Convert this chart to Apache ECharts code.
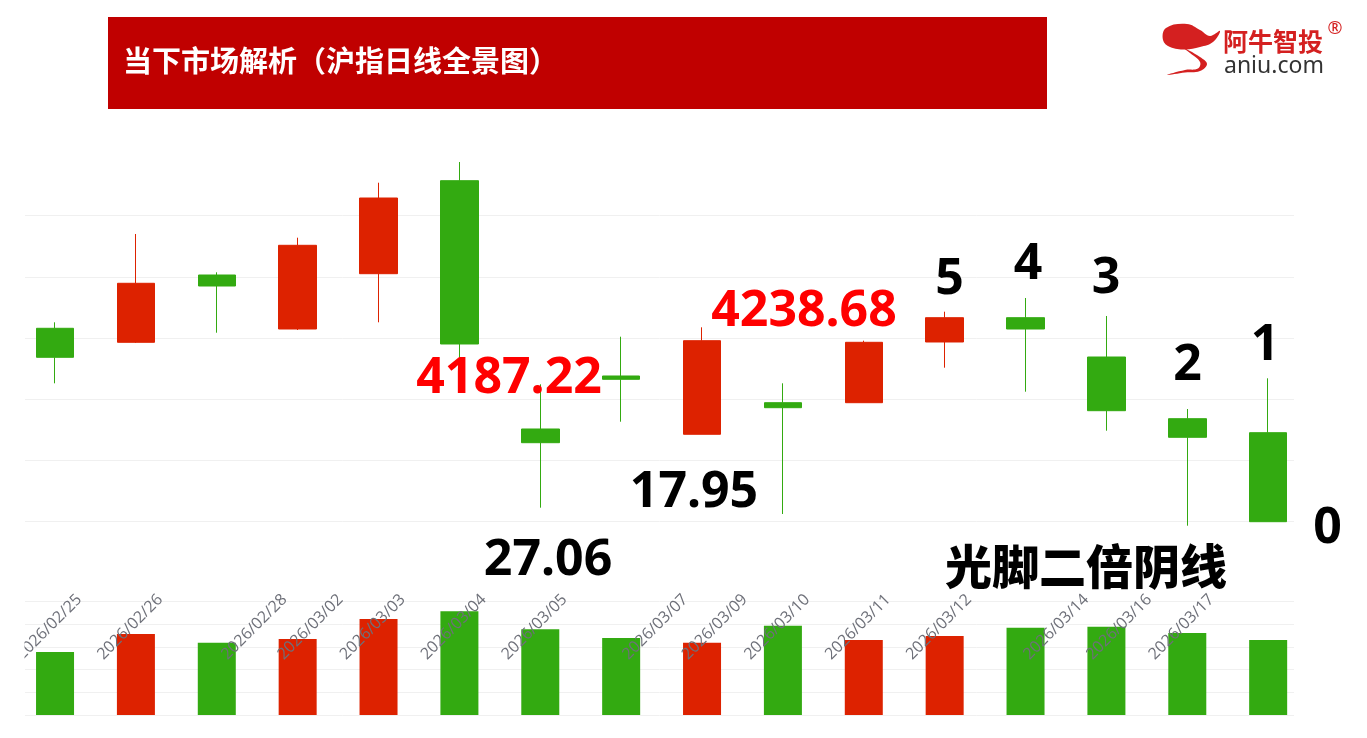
<!DOCTYPE html>
<html>
<head>
<meta charset="utf-8">
<script src="https://cdn.jsdelivr.net/npm/echarts@6/dist/echarts.min.js"></script>
<style>
html,body{margin:0;padding:0;background:#fff;}
#chart{width:1367px;height:738px;}
</style>
</head>
<body>
<div id="chart"></div>
<script>
// ---- data ----
const dates = ['2026/02/25','2026/02/26','2026/02/28','2026/03/02','2026/03/03','2026/03/04','2026/03/05','2026/03/07','2026/03/09','2026/03/10','2026/03/11','2026/03/12','2026/03/14','2026/03/16','2026/03/17'];
const opens  = [4207.80,4196.33,4251.44,4207.22,4252.51,4328.66,4125.34,4168.74,4121.00,4146.87,4146.87,4196.58,4216.48,4184.29,4133.77,4122.31];
const closes = [4184.05,4244.65,4242.43,4275.76,4314.49,4194.94,4114.12,4166.03,4197.64,4142.78,4196.33,4216.48,4207.22,4140.32,4118.54,4049.43];
const lows   = [4162.76,4195.76,4204.19,4206.40,4212.71,4181.80,4060.89,4131.31,4121.00,4055.73,4146.87,4175.53,4155.88,4123.94,4046.15,4049.43];
const highs  = [4212.71,4285.02,4253.65,4281.99,4327.02,4343.97,4161.94,4200.92,4208.61,4162.76,4197.64,4221.39,4232.61,4217.87,4141.71,4166.85];
const volumes = [556,715,638,671,847,915,756,680,638,788,662,697,770,779,724,662];
const priceTicks = {min:4050, max:4300, interval:50};
const volTicks = {min:0, max:1000, interval:200};

const RED = '#DD2200', GREEN = '#33AA11';
const categories = dates.concat(['']);
const candleData = opens.map((o,i)=>[o, closes[i], lows[i], highs[i]]);
const volData = volumes.map((v,i)=>({value:v, itemStyle:{color: closes[i] >= opens[i] ? RED : GREEN}}));

// date labels in the picture are drawn in three horizontal offset groups
const labelGroupB = new Set([2,7,12]);
const labelGroupC = new Set([3,8,13]);

const chart = echarts.init(document.getElementById('chart'), null, {renderer:'canvas'});

const splitOnlyY = (t) => ({
  type:'value', min:t.min, max:t.max, interval:t.interval,
  axisLine:{show:false}, axisTick:{show:false}, axisLabel:{show:false},
  splitLine:{show:true, lineStyle:{color:'#F0F0F0', width:1}}
});

const labelAxis = (gridIndex, pick) => ({
  type:'category', gridIndex:gridIndex, data:categories, zlevel:1, z:10,
  axisLine:{show:false}, axisTick:{show:false}, splitLine:{show:false},
  axisLabel:{show:true, interval:0, rotate:45, margin:16, fontSize:16, color:'#6E7079',
             fontFamily:'"Open Sans", "Noto Sans", sans-serif',
             formatter:(v, i) => pick(i) ? v : ''}
});

const bigNum = (txt, x, y, color) => ({
  type:'text', x:x, y:y, z:100, zlevel:2,
  style:{text:txt, fill:color, font:'bold 50px "Noto Sans", "Open Sans", sans-serif',
         textAlign:'center', textVerticalAlign:'middle'}
});

const option = {
  animation:false,
  backgroundColor:'#ffffff',
  grid:[
    {left:14.6, width:1294, top:215.7, height:305.3},
    {left:25, width:1269, top:215.7, height:305.3},
    {left:14.6, width:1294, top:601.7, height:113.3},
    {left:25, width:1269, top:601.7, height:113.3},
    {left:38.9, width:1294, top:560, height:21},
    {left:83.9, width:1294, top:560, height:21},
    {left:57.4, width:1294, top:560, height:21}
  ],
  xAxis:[
    {type:'category', gridIndex:0, data:categories, show:false},
    {type:'value', gridIndex:1, min:0, max:1, show:false},
    {type:'category', gridIndex:2, data:categories, show:false},
    {type:'value', gridIndex:3, min:0, max:1, show:false},
    labelAxis(4, i => !labelGroupB.has(i) && !labelGroupC.has(i)),
    labelAxis(5, i => labelGroupB.has(i)),
    labelAxis(6, i => labelGroupC.has(i))
  ],
  yAxis:[
    {type:'value', gridIndex:0, min:priceTicks.min, max:priceTicks.max, interval:priceTicks.interval, show:false},
    Object.assign({gridIndex:1}, splitOnlyY(priceTicks)),
    {type:'value', gridIndex:2, min:volTicks.min, max:volTicks.max, interval:volTicks.interval, show:false},
    Object.assign({gridIndex:3}, splitOnlyY(volTicks)),
    {type:'value', gridIndex:4, show:false},
    {type:'value', gridIndex:5, show:false},
    {type:'value', gridIndex:6, show:false}
  ],
  series:[
    {type:'candlestick', xAxisIndex:0, yAxisIndex:0, data:candleData, barWidth:38, clip:false,
     itemStyle:{color:RED, color0:GREEN, borderColor:RED, borderColor0:GREEN, borderWidth:1}},
    {type:'bar', xAxisIndex:2, yAxisIndex:2, data:volData, barWidth:38}
  ],
  graphic:[
    // left edge mask (the first date label is cut off in the picture)
    {type:'rect', shape:{x:0, y:580, width:24.5, height:110}, style:{fill:'#ffffff'}, z:50, zlevel:1},
    {type:'rect', shape:{x:108, y:17, width:939, height:92}, style:{fill:'#C00000'}, z:1},
    {type:'text', x:123, y:61, z:2,
     style:{text:'当下市场解析（沪指日线全景图）', fill:'#ffffff',
            font:'bold 29px "Noto Sans CJK SC", sans-serif',
            textAlign:'left', textVerticalAlign:'middle'}},
    {type:'polygon', z:2, shape:{smooth:0.4, points:[[1163,40],[1166,28],[1187,24],[1200,30],[1210,36],[1220,31],[1213,42],[1200,47],[1185,49.5],[1170,47]]}, style:{fill:'#D42020'}},
    {type:'polygon', z:2, shape:{smooth:0.4, points:[[1182,47],[1200,57],[1207,64],[1200,71],[1185,72.5],[1167,75],[1185,70],[1198,68.5],[1200,62],[1190,53]]}, style:{fill:'#D42020'}},
    {type:'text', x:1223, y:41, z:2,
     style:{text:'阿牛智投', fill:'#D42020', font:'bold 25px "Noto Sans CJK SC", sans-serif',
            textAlign:'left', textVerticalAlign:'middle'}},
    {type:'text', x:1224, y:66, z:2,
     style:{text:'aniu.com', fill:'#333333', font:'23px "Noto Sans", sans-serif',
            textAlign:'left', textVerticalAlign:'middle'}},
    {type:'text', x:1335, y:29, z:2,
     style:{text:'®', fill:'#D42020', font:'18px "Noto Sans", sans-serif',
            textAlign:'center', textVerticalAlign:'middle'}},
    bigNum('4187.22', 509, 379, '#FF0000'),
    bigNum('4238.68', 804, 312, '#FF0000'),
    bigNum('17.95', 694, 493, '#000000'),
    bigNum('27.06', 548, 561, '#000000'),
    bigNum('5', 949.5, 280, '#000000'),
    bigNum('4', 1028, 265, '#000000'),
    bigNum('3', 1106, 279, '#000000'),
    bigNum('2', 1187.5, 366, '#000000'),
    bigNum('1', 1265, 346, '#000000'),
    bigNum('0', 1327.5, 529, '#000000'),
    {type:'text', x:1086, y:566, z:100, zlevel:2,
     style:{text:'光脚二倍阴线', fill:'#000000', font:'900 47px "Noto Sans CJK SC", sans-serif',
            textAlign:'center', textVerticalAlign:'middle'}}
  ]
};
chart.setOption(option);
</script>
</body>
</html>
